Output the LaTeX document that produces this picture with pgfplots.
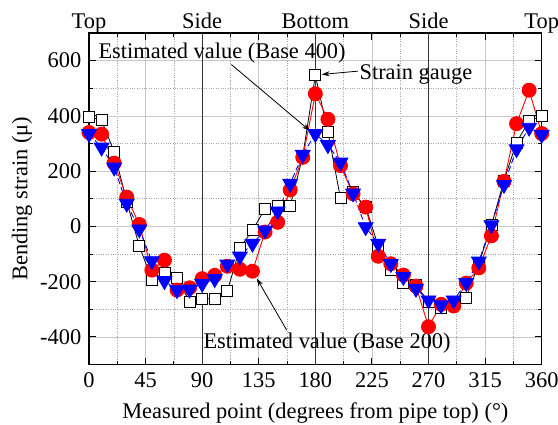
\documentclass[border=0pt]{standalone}
\usepackage{fontspec}
\setmainfont{Liberation Serif}
\usepackage{pgfplots}
\usepackage{pgfplotstable}
\pgfplotsset{compat=1.18}
\usetikzlibrary{arrows.meta}

\pgfplotstableread{
x gauge base400 base200
0 397 335 340
10 384 286 334
20 270 214 229
30 90 83 106
40 -71 -10 7
50 -192 -125 -158
60 -167 -197 -122
70 -185 -230 -230
80 -273 -228 -222
90 -262 -207 -189
100 -262 -190 -177
110 -234 -137 -144
120 -78 -108 -155
130 -14 -62 -162
140 64 -14 -20
150 74 55 15
160 74 155 132
170 255 260 250
180 547 335 480
190 342 295 388
200 102 232 220
210 124 120 118
220 70 -2 70
230 -70 -62 -108
240 -157 -135 -135
250 -206 -182 -176
260 -212 -225 -216
270 -273 -267 -363
280 -294 -285 -282
290 -275 -267 -288
300 -257 -204 -205
310 -135 -126 -150
320 4 5 -34
330 166 151 163
340 304 280 372
350 382 358 493
360 400 332 336
}\datatable

\begin{document}
\fontsize{22.5}{26}\selectfont
\begin{tikzpicture}
\begin{axis}[
  scale only axis, width=452.7bp, height=331.6bp,
  xmin=0, xmax=360, ymin=-500, ymax=700,
  xtick={0,45,...,360}, ytick={-400,-200,...,600},
  minor x tick num=1, minor y tick num=1,
  tick align=inside, major tick length=7bp, minor tick length=4bp,
  grid=both,
  major grid style={draw=black!22, line width=0.8bp},
  minor grid style={draw=black!35, dotted, line width=0.7bp},
  axis line style={line width=1.3bp},
  tick style={black, line width=1bp},
  /pgf/number format/assume math mode=true,
  ticklabel style={font=\fontsize{22.5}{26}\selectfont},
  label style={font=\fontsize{22.5}{26}\selectfont},
  xlabel={Measured point (degrees from pipe top) (°)},
  ylabel={Bending strain (μ)},
  ylabel style={yshift=-7bp},
  clip=false,
]
\coordinate (bl) at (rel axis cs:0,0);
\coordinate (tr) at (rel axis cs:1,1);
\addplot[black!80, line width=1bp, no marks] coordinates {(90,-500) (90,700)};
\addplot[black!80, line width=1bp, no marks] coordinates {(180,-500) (180,700)};
\addplot[black!80, line width=1bp, no marks] coordinates {(270,-500) (270,700)};

\addplot[black, line width=0.8bp, mark=square*, mark size=5.5bp,
  mark options={solid, fill=white, draw=black, line width=0.8bp}] table[x=x, y=gauge] {\datatable};
\addplot[red, line width=0.9bp, mark=*, mark size=7bp,
  mark options={solid, fill=red, draw=red}] table[x=x, y=base200] {\datatable};
\addplot[blue, line width=0.9bp, dash pattern=on 6bp off 3bp, mark=triangle*, mark size=8.5bp,
  mark options={solid, fill=blue, draw=blue, rotate=180}] table[x=x, y=base400] {\datatable};

\node[anchor=base, yshift=5bp] at (axis cs:0,700) {Top};
\node[anchor=base, yshift=5bp] at (axis cs:90,700) {Side};
\node[anchor=base, yshift=5bp] at (axis cs:180,700) {Bottom};
\node[anchor=base, yshift=5bp] at (axis cs:270,700) {Side};
\node[anchor=base, yshift=5bp] at (axis cs:360,700) {Top};

\node[anchor=base west, inner sep=0pt] at (axis cs:7.4,606) {Estimated value (Base 400)};
\node[anchor=base west, inner sep=0pt] at (axis cs:215,532) {Strain gauge};
\node[anchor=base west, inner sep=0pt] at (axis cs:90.9,-440) {Estimated value (Base 200)};

\draw[black, line width=0.8bp, -{Stealth[length=8bp, width=5bp]}] (axis cs:113.2,586) -- (axis cs:175.7,346);
\draw[black, line width=0.8bp, -{Stealth[length=8bp, width=5bp]}] (axis cs:213.9,562) -- (axis cs:185,550);
\draw[black, line width=0.8bp, -{Stealth[length=8bp, width=5bp]}] (axis cs:157.2,-375) -- (axis cs:133.4,-188);
\end{axis}
\pgfresetboundingbox
\path ([shift={(-89bp,-59.7bp)}]bl) rectangle ([shift={(16.3bp,33bp)}]tr);
\end{tikzpicture}
\end{document}
